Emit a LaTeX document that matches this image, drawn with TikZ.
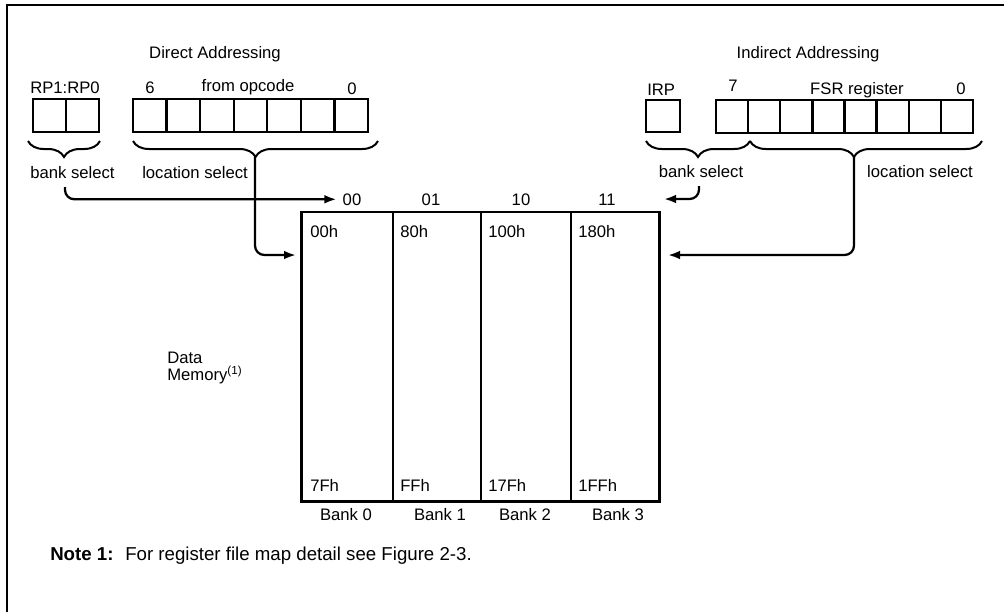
\documentclass[tikz,border=0pt]{standalone}
\usepackage{fontspec}
\setmainfont{Liberation Sans}
\usetikzlibrary{arrows.meta,decorations.pathreplacing}
\begin{document}
\begin{tikzpicture}[x=0.75pt,y=-0.75pt,
  font=\fontsize{12.5}{15}\selectfont,
  txt/.style={inner sep=0pt, anchor=base west},
  ctxt/.style={inner sep=0pt, anchor=base},
  regcell/.style={draw, line width=1.8pt, inner sep=0pt, minimum height=24.75pt},
  memcell/.style={draw, line width=0.9pt, inner sep=0pt, minimum height=216.75pt},
  grp/.style={decorate, decoration={brace, mirror, amplitude=12pt}, line width=1.5pt},
  link/.style={line width=1.7pt, rounded corners=7pt, -{Latex[length=9pt,width=6.5pt]}}
]
\useasboundingbox (0,0) rectangle (1004,612);

% frame
\draw[line width=1.5pt] (7,612) -- (7,5) -- (1004,5);

% ---------- direct addressing ----------
\node[ctxt] (hdD) at (215,58) {Direct Addressing};
\node[txt]  (rpT) at (30,93) {RP1:RP0};
\node[ctxt] (b6) at (150,93) {6};
\node[ctxt] (fromop) at (248,91) {from opcode};
\node[ctxt] (b0L) at (352,94) {0};

\node[regcell, minimum width=24.75pt] (rp1) at (49.5,115.5) {};
\node[regcell, minimum width=24.75pt] (rp0) at (82.5,115.5) {};
\foreach \i in {0,...,6}
  \node[regcell, minimum width=25.18pt] (opc\i) at ({133+33.57*(\i+0.5)},115.5) {};

\draw[grp] (28,141) -- (100,141);
\draw[grp] (133,141) -- (378,141);
\coordinate (tipRP) at (64,157);
\coordinate (tipOp) at (255,157);

\node[txt] (bsL) at (30,178) {bank select};
\node[txt] (lsL) at (142,178) {location select};

% ---------- indirect addressing ----------
\node[ctxt] (hdI) at (808,58) {Indirect Addressing};
\node[txt]  (irpT) at (647,95) {IRP};
\node[ctxt] (b7) at (733,91) {7};
\node[ctxt] (fsrT) at (857,94) {FSR register};
\node[ctxt] (b0R) at (961,94) {0};

\node[regcell, minimum width=25.5pt, minimum height=24pt] (irp) at (663,116) {};
\foreach \i in {0,...,7}
  \node[regcell, minimum width=24.09pt] (fsr\i) at ({716+32.125*(\i+0.5)},116.5) {};

\draw[grp] (646,141) -- (750,141);
\draw[grp, decoration={aspect=0.448}] (750,141) -- (982,141);
\coordinate (tipIrp) at (698,157);
\coordinate (tipFsr) at (854,157);

\node[ctxt] (bsR) at (701,177) {bank select};
\node[ctxt] (lsR) at (920,177) {location select};

% ---------- data memory banks ----------
\node[ctxt] (h00) at (352,205) {00};
\node[ctxt] (h01) at (431,205) {01};
\node[ctxt] (h10) at (521,205) {10};
\node[ctxt] (h11) at (607,205) {11};

\node[memcell, minimum width=68.25pt] (bank0) at (347.5,356.5) {};
\node[memcell, minimum width=66pt]    (bank1) at (437,356.5) {};
\node[memcell, minimum width=67.5pt]  (bank2) at (526,356.5) {};
\node[memcell, minimum width=66pt]    (bank3) at (615,356.5) {};
\draw[line width=2.2pt] (bank0.north west) |- (bank3.south east) -- (bank3.north east);

\node[txt] (a00) at (310,237) {00h};
\node[txt] (a80) at (400,237) {80h};
\node[txt] (a100) at (488,237) {100h};
\node[txt] (a180) at (578,237) {180h};
\node[txt] (a7F) at (310,491) {7Fh};
\node[txt] (aFF) at (400,491) {FFh};
\node[txt] (a17F) at (488,491) {17Fh};
\node[txt] (a1FF) at (578,491) {1FFh};

\node[ctxt] (lb0) at (346,520) {Bank 0};
\node[ctxt] (lb1) at (440,520) {Bank 1};
\node[ctxt] (lb2) at (525,520) {Bank 2};
\node[ctxt] (lb3) at (618,520) {Bank 3};

\node[txt] (dm1) at (167,363) {Data};
\node[txt] (dm2) at (167,380) {Memory\textsuperscript{(1)}};

% ---------- connectors ----------
\coordinate (bsLstart) at (65,187);
\coordinate (inL) at (296,255);
\coordinate (bsRstart) at (699,186);
\coordinate (inBR) at (664,199);
\coordinate (inR) at (668,255);

\draw[link] (bsLstart) |- ([xshift=-4.5pt]h00.west);
\draw[link] (tipOp) |- (inL);
\draw[link] (bsRstart) |- (inBR);
\draw[link] (tipFsr) |- (inR);

% ---------- note ----------
\node[txt, font=\fontsize{14}{16}\selectfont] (noteH) at (50,560) {\textbf{Note 1:}};
\node[txt, font=\fontsize{14}{16}\selectfont] (noteT) at (125,560) {For register file map detail see Figure 2-3.};
\end{tikzpicture}
\end{document}
